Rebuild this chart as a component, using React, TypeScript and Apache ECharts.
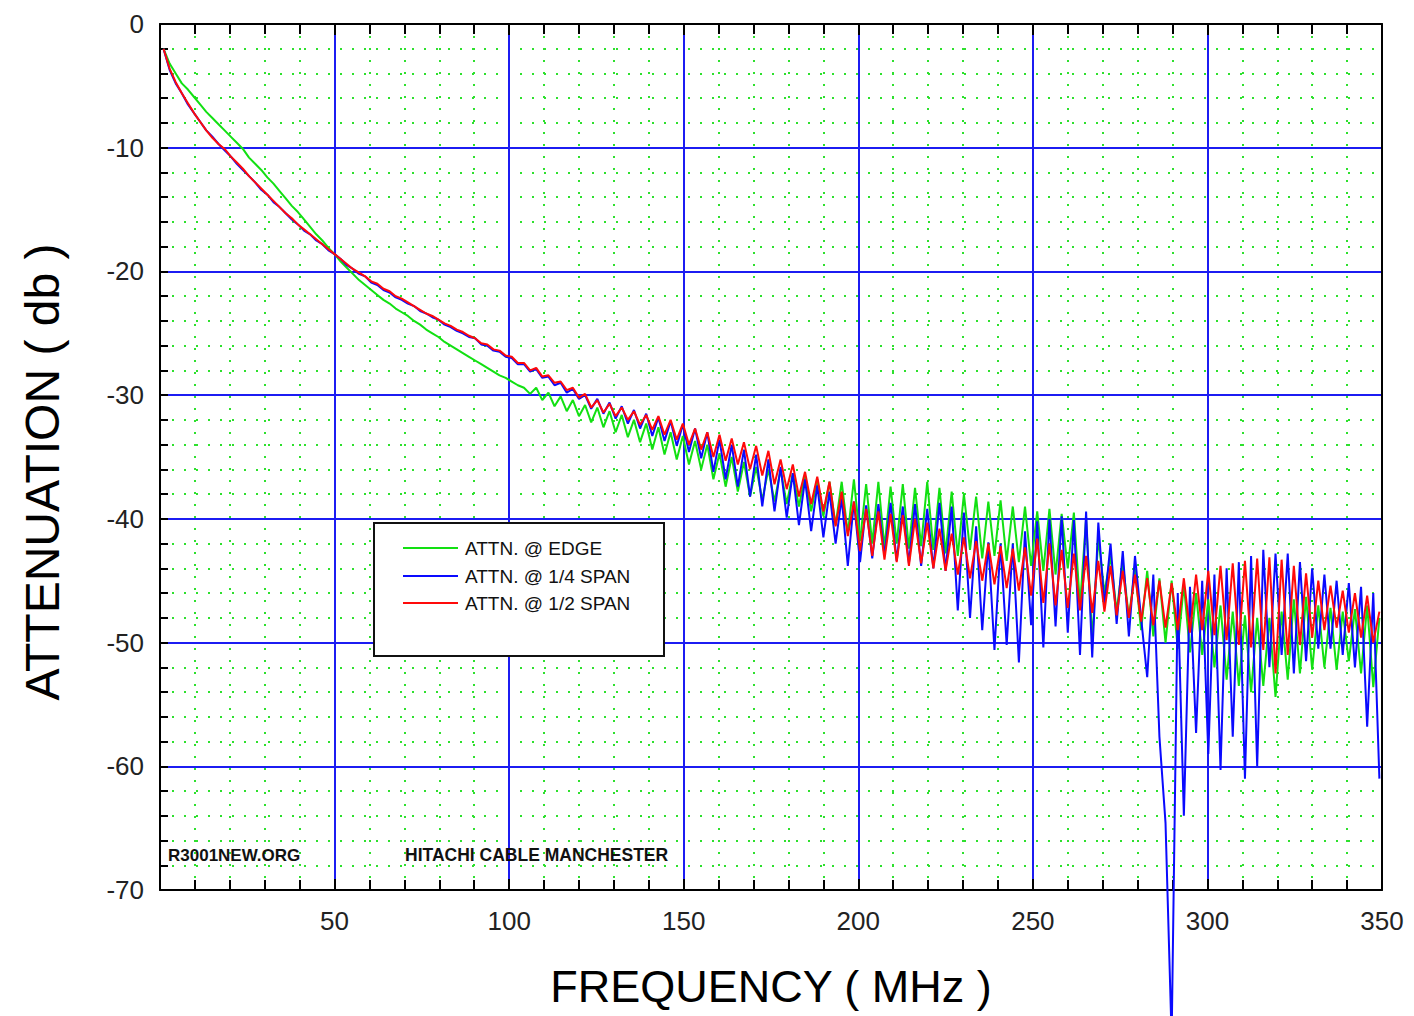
import React, { useEffect, useRef } from "react";
import * as echarts from "echarts";

// Sweep grid: frequency of sample i = FREQ_START + i * FREQ_STEP (MHz)
const FREQ_START = 1;
const FREQ_STEP = 1.75;

// ATTN. @ EDGE (dB)
const edge = [
  -2.0, -3.2, -4.0, -4.8, -5.3, -5.9, -6.5, -7.1, -7.6, -8.1,
  -8.6, -9.1, -9.6, -10.1, -10.8, -11.3, -11.8, -12.4, -12.9, -13.5,
  -14.1, -14.7, -15.2, -15.8, -16.4, -17.0, -17.5, -18.1, -18.6, -19.2,
  -19.7, -20.2, -20.7, -21.1, -21.5, -21.9, -22.3, -22.6, -23.0, -23.3,
  -23.6, -24.0, -24.3, -24.7, -25.0, -25.3, -25.7, -26.0, -26.3, -26.6,
  -26.9, -27.2, -27.5, -27.8, -28.1, -28.4, -28.6, -28.9, -29.2, -29.4,
  -29.9, -29.4, -30.4, -29.8, -30.9, -30.1, -31.3, -30.4, -31.7, -30.8,
  -32.2, -31.0, -32.6, -31.3, -33.0, -31.6, -33.4, -32.0, -33.8, -32.3,
  -34.4, -32.6, -34.8, -33.0, -35.2, -33.3, -35.6, -33.7, -36.0, -34.0,
  -36.8, -34.7, -37.4, -35.0, -37.8, -35.4, -38.2, -35.8, -38.5, -36.0,
  -38.6, -36.0, -38.8, -36.3, -39.0, -36.5, -39.4, -36.8, -39.8, -37.0,
  -40.5, -37.0, -41.2, -36.8, -41.8, -37.2, -42.0, -37.0, -42.3, -37.4,
  -42.0, -37.2, -42.4, -37.5, -42.2, -37.0, -42.5, -37.5, -42.8, -37.8,
  -43.0, -38.0, -42.5, -38.2, -43.2, -38.6, -43.0, -38.5, -43.4, -39.0,
  -43.5, -39.0, -43.8, -39.4, -44.2, -39.2, -44.5, -39.6, -44.0, -39.5,
  -47.0, -40.0, -49.8, -41.5, -46.0, -43.0, -47.5, -43.5, -48.0, -44.0,
  -49.0, -44.2, -49.5, -44.8, -50.0, -45.0, -50.5, -45.3, -50.8, -46.0,
  -51.0, -46.5, -52.0, -47.0, -53.0, -47.5, -53.5, -47.8, -54.0, -48.0,
  -53.5, -48.0, -54.4, -47.5, -53.0, -46.5, -52.5, -46.3, -52.2, -47.0,
  -52.0, -47.2, -52.2, -47.5, -51.5, -47.3, -52.5, -47.0, -53.6, -48.0,
];

// ATTN. @ 1/4 SPAN (dB)
const quarterSpan = [
  -2.0, -3.7, -4.8, -5.6, -6.5, -7.2, -7.9, -8.6, -9.1, -9.7,
  -10.2, -10.7, -11.3, -11.8, -12.3, -12.8, -13.4, -13.8, -14.4, -14.8,
  -15.3, -15.8, -16.2, -16.7, -17.0, -17.5, -17.8, -18.3, -18.6, -19.0,
  -19.5, -19.8, -20.2, -20.4, -20.9, -21.1, -21.5, -21.7, -22.1, -22.3,
  -22.6, -22.8, -23.2, -23.4, -23.7, -23.9, -24.3, -24.5, -24.8, -25.0,
  -25.3, -25.4, -25.9, -26.0, -26.4, -26.5, -26.9, -27.0, -27.5, -27.5,
  -28.1, -27.9, -28.6, -28.5, -29.2, -29.0, -29.8, -29.5, -30.3, -30.0,
  -31.1, -30.3, -31.5, -30.6, -31.9, -30.9, -32.3, -31.2, -32.7, -31.5,
  -33.3, -31.8, -33.7, -32.1, -34.1, -32.4, -34.6, -32.7, -35.1, -33.0,
  -36.2, -33.6, -36.8, -34.0, -37.4, -34.4, -38.2, -34.8, -39.0, -35.2,
  -39.4, -35.8, -39.9, -36.3, -40.5, -36.8, -41.0, -37.3, -41.5, -37.8,
  -42.0, -38.3, -43.8, -38.6, -43.5, -38.9, -43.2, -38.8, -43.0, -38.7,
  -43.4, -39.0, -43.6, -38.8, -43.8, -39.2, -44.0, -38.7, -44.2, -39.0,
  -47.4, -39.5, -48.0, -40.6, -49.0, -41.9, -50.6, -42.0, -50.2, -42.0,
  -51.6, -41.0, -48.6, -40.2, -50.4, -40.0, -48.7, -39.8, -49.2, -40.1,
  -51.0, -39.4, -51.2, -40.3, -47.0, -42.0, -48.5, -42.6, -49.5, -43.0,
  -48.0, -52.8, -44.5, -57.6, -64.6, -82.0, -46.0, -64.0, -45.5, -57.3,
  -45.0, -59.0, -44.5, -60.3, -44.0, -57.6, -43.5, -61.0, -43.0, -60.0,
  -42.5, -52.0, -42.8, -51.0, -42.8, -52.5, -43.5, -51.5, -44.0, -50.5,
  -44.5, -50.5, -45.0, -51.0, -45.2, -52.0, -45.5, -56.8, -46.0, -61.0,
];

// ATTN. @ 1/2 SPAN (dB)
const halfSpan = [
  -2.0, -3.6, -4.7, -5.6, -6.4, -7.2, -7.9, -8.6, -9.2, -9.7,
  -10.1, -10.7, -11.2, -11.7, -12.3, -12.8, -13.3, -13.8, -14.3, -14.8,
  -15.3, -15.7, -16.2, -16.6, -17.0, -17.4, -17.8, -18.2, -18.6, -19.0,
  -19.4, -19.8, -20.1, -20.4, -20.8, -21.0, -21.4, -21.6, -22.0, -22.2,
  -22.5, -22.8, -23.1, -23.4, -23.6, -23.9, -24.2, -24.4, -24.7, -24.9,
  -25.2, -25.4, -25.8, -25.9, -26.3, -26.4, -26.8, -26.9, -27.4, -27.4,
  -28.0, -27.8, -28.5, -28.4, -29.0, -28.9, -29.6, -29.4, -30.2, -29.9,
  -31.0, -30.4, -31.4, -30.7, -31.7, -31.0, -32.0, -31.3, -32.4, -31.6,
  -32.8, -31.7, -33.2, -32.0, -33.6, -32.3, -34.0, -32.7, -34.4, -33.0,
  -35.0, -33.2, -35.3, -33.5, -35.6, -33.8, -36.0, -34.1, -36.5, -34.5,
  -37.2, -35.2, -37.6, -35.6, -38.2, -36.2, -38.8, -36.6, -39.4, -37.0,
  -40.6, -37.8, -41.4, -38.6, -42.6, -39.2, -43.0, -39.4, -43.3, -39.6,
  -43.5, -39.7, -43.8, -40.0, -43.6, -40.3, -44.0, -40.8, -44.2, -41.2,
  -44.5, -41.5, -44.8, -41.8, -45.0, -42.0, -45.3, -42.2, -45.6, -42.4,
  -45.8, -42.3, -46.2, -41.6, -46.8, -42.0, -47.0, -42.5, -47.2, -42.8,
  -47.4, -43.0, -47.6, -43.4, -47.5, -43.8, -47.8, -44.2, -48.0, -44.5,
  -48.3, -44.8, -48.6, -45.0, -48.8, -45.2, -49.0, -44.8, -49.2, -44.5,
  -49.0, -44.2, -49.4, -43.8, -49.8, -43.6, -50.2, -43.4, -50.4, -43.2,
  -50.6, -43.1, -52.5, -43.3, -51.0, -43.8, -50.2, -44.4, -49.6, -45.0,
  -49.0, -45.4, -48.8, -45.8, -49.2, -46.0, -49.6, -46.2, -50.0, -47.5,
];

const SERIES_NAMES = ["ATTN. @ EDGE", "ATTN. @ 1/4 SPAN", "ATTN. @ 1/2 SPAN"];
const SERIES_COLORS = ["#12e012", "#0a0aff", "#ff0a0a"];
const SERIES_VALUES = [edge, quarterSpan, halfSpan];

const X_MIN = 0;
const X_MAX = 350;
const X_INTERVAL = 50;
const Y_MIN = -70;
const Y_MAX = 0;
const Y_INTERVAL = 10;

const X_TITLE = "FREQUENCY ( MHz )";
const Y_TITLE = "ATTENUATION ( db )";
const NOTE_LEFT = "R3001NEW.ORG";
const NOTE_RIGHT = "HITACHI CABLE MANCHESTER";

const FONT = "'Liberation Sans', Arial, sans-serif";

function toPairs(values: number[]) {
  return values.map((v, i) => [FREQ_START + i * FREQ_STEP, v]);
}

export default function App() {
  const ref = useRef<HTMLDivElement>(null);

  useEffect(() => {
    if (!ref.current) return;
    const chart = echarts.init(ref.current, undefined, { renderer: "svg" });

    const frame = { color: "#000", width: 2 };
    const majorGrid = { color: "#1c1cf2", width: 2 };
    const minorGrid = { color: "#2ee02e", width: 2, type: [2, 10] as any };

    const legendX = 374;
    const legendY = 523;
    const legendRows = [548, 576, 603];

    const graphic: any[] = [
      {
        type: "rect",
        shape: { x: legendX, y: legendY, width: 290, height: 133 },
        style: { fill: "#fff", stroke: "#111", lineWidth: 2 },
        z: 10,
      },
      ...SERIES_NAMES.flatMap((name, k) => [
        {
          type: "line",
          shape: { x1: 403, y1: legendRows[k], x2: 458, y2: legendRows[k] },
          style: { stroke: SERIES_COLORS[k], lineWidth: 2 },
          z: 11,
        },
        {
          type: "text",
          x: 465,
          y: legendRows[k],
          style: {
            text: name,
            fill: "#111",
            font: `19px ${FONT}`,
            verticalAlign: "middle",
          },
          z: 11,
        },
      ]),
      {
        type: "text",
        x: 168,
        y: 855,
        style: {
          text: NOTE_LEFT,
          fill: "#111",
          font: `bold 17px ${FONT}`,
          verticalAlign: "middle",
        },
        z: 11,
      },
      {
        type: "text",
        x: 405,
        y: 855,
        style: {
          text: NOTE_RIGHT,
          fill: "#111",
          font: `bold 17.5px ${FONT}`,
          verticalAlign: "middle",
        },
        z: 11,
      },
      {
        type: "text",
        x: 42,
        y: 472,
        rotation: Math.PI / 2,
        style: {
          text: Y_TITLE,
          fill: "#000",
          font: `48px ${FONT}`,
          align: "center",
          verticalAlign: "middle",
        },
        z: 11,
      },
    ];

    const option: any = {
      animation: false,
      backgroundColor: "#fff",
      grid: { left: 160, right: 32, top: 24, bottom: 126, containLabel: false },
      xAxis: [
        {
          type: "value",
          position: "bottom",
          min: X_MIN,
          max: X_MAX,
          interval: X_INTERVAL,
          axisLine: { show: true, onZero: false, lineStyle: frame },
          axisTick: { show: true, inside: true, length: 11, lineStyle: frame },
          minorTick: { show: true, splitNumber: 5, length: 10, lineStyle: frame },
          axisLabel: {
            showMinLabel: false,
            color: "#222",
            fontSize: 26,
            fontFamily: FONT,
            margin: 18,
          },
          splitLine: { show: true, showMinLine: false, showMaxLine: false, lineStyle: majorGrid },
          minorSplitLine: { show: true, lineStyle: minorGrid },
          name: X_TITLE,
          nameLocation: "middle",
          nameGap: 74,
          nameTextStyle: { fontSize: 45, color: "#000", fontFamily: FONT },
        },
        {
          type: "value",
          position: "top",
          min: X_MIN,
          max: X_MAX,
          interval: X_INTERVAL,
          axisLine: { show: true, onZero: false, lineStyle: frame },
          axisTick: { show: true, inside: true, length: 11, lineStyle: frame },
          minorTick: { show: true, splitNumber: 5, length: 10, lineStyle: frame },
          axisLabel: { show: false },
          splitLine: { show: false },
        },
      ],
      yAxis: [
        {
          type: "value",
          position: "left",
          min: Y_MIN,
          max: Y_MAX,
          interval: Y_INTERVAL,
          axisLine: { show: true, onZero: false, lineStyle: frame },
          axisTick: { show: true, inside: true, length: 8, lineStyle: frame },
          minorTick: { show: true, splitNumber: 5, length: 8, lineStyle: frame },
          axisLabel: {
            color: "#222",
            fontSize: 26,
            fontFamily: FONT,
            margin: 16,
          },
          splitLine: { show: true, showMinLine: false, showMaxLine: false, lineStyle: majorGrid },
          minorSplitLine: { show: true, lineStyle: minorGrid },
        },
        {
          type: "value",
          position: "right",
          min: Y_MIN,
          max: Y_MAX,
          interval: Y_INTERVAL,
          axisLine: { show: true, onZero: false, lineStyle: frame },
          axisTick: { show: false },
          axisLabel: { show: false },
          splitLine: { show: false },
        },
      ],
      series: SERIES_NAMES.map((name, k) => ({
        name,
        type: "line",
        xAxisIndex: 0,
        yAxisIndex: 0,
        data: toPairs(SERIES_VALUES[k]),
        showSymbol: false,
        symbol: "none",
        clip: k !== 1,
        lineStyle: { color: SERIES_COLORS[k], width: 2 },
        itemStyle: { color: SERIES_COLORS[k] },
        z: 3 + k,
      })),
      graphic,
    };

    chart.setOption(option);
    return () => chart.dispose();
  }, []);

  return (
    <div
      ref={ref}
      style={{ position: "absolute", left: 0, top: 0, width: 1414, height: 1016 }}
    />
  );
}
